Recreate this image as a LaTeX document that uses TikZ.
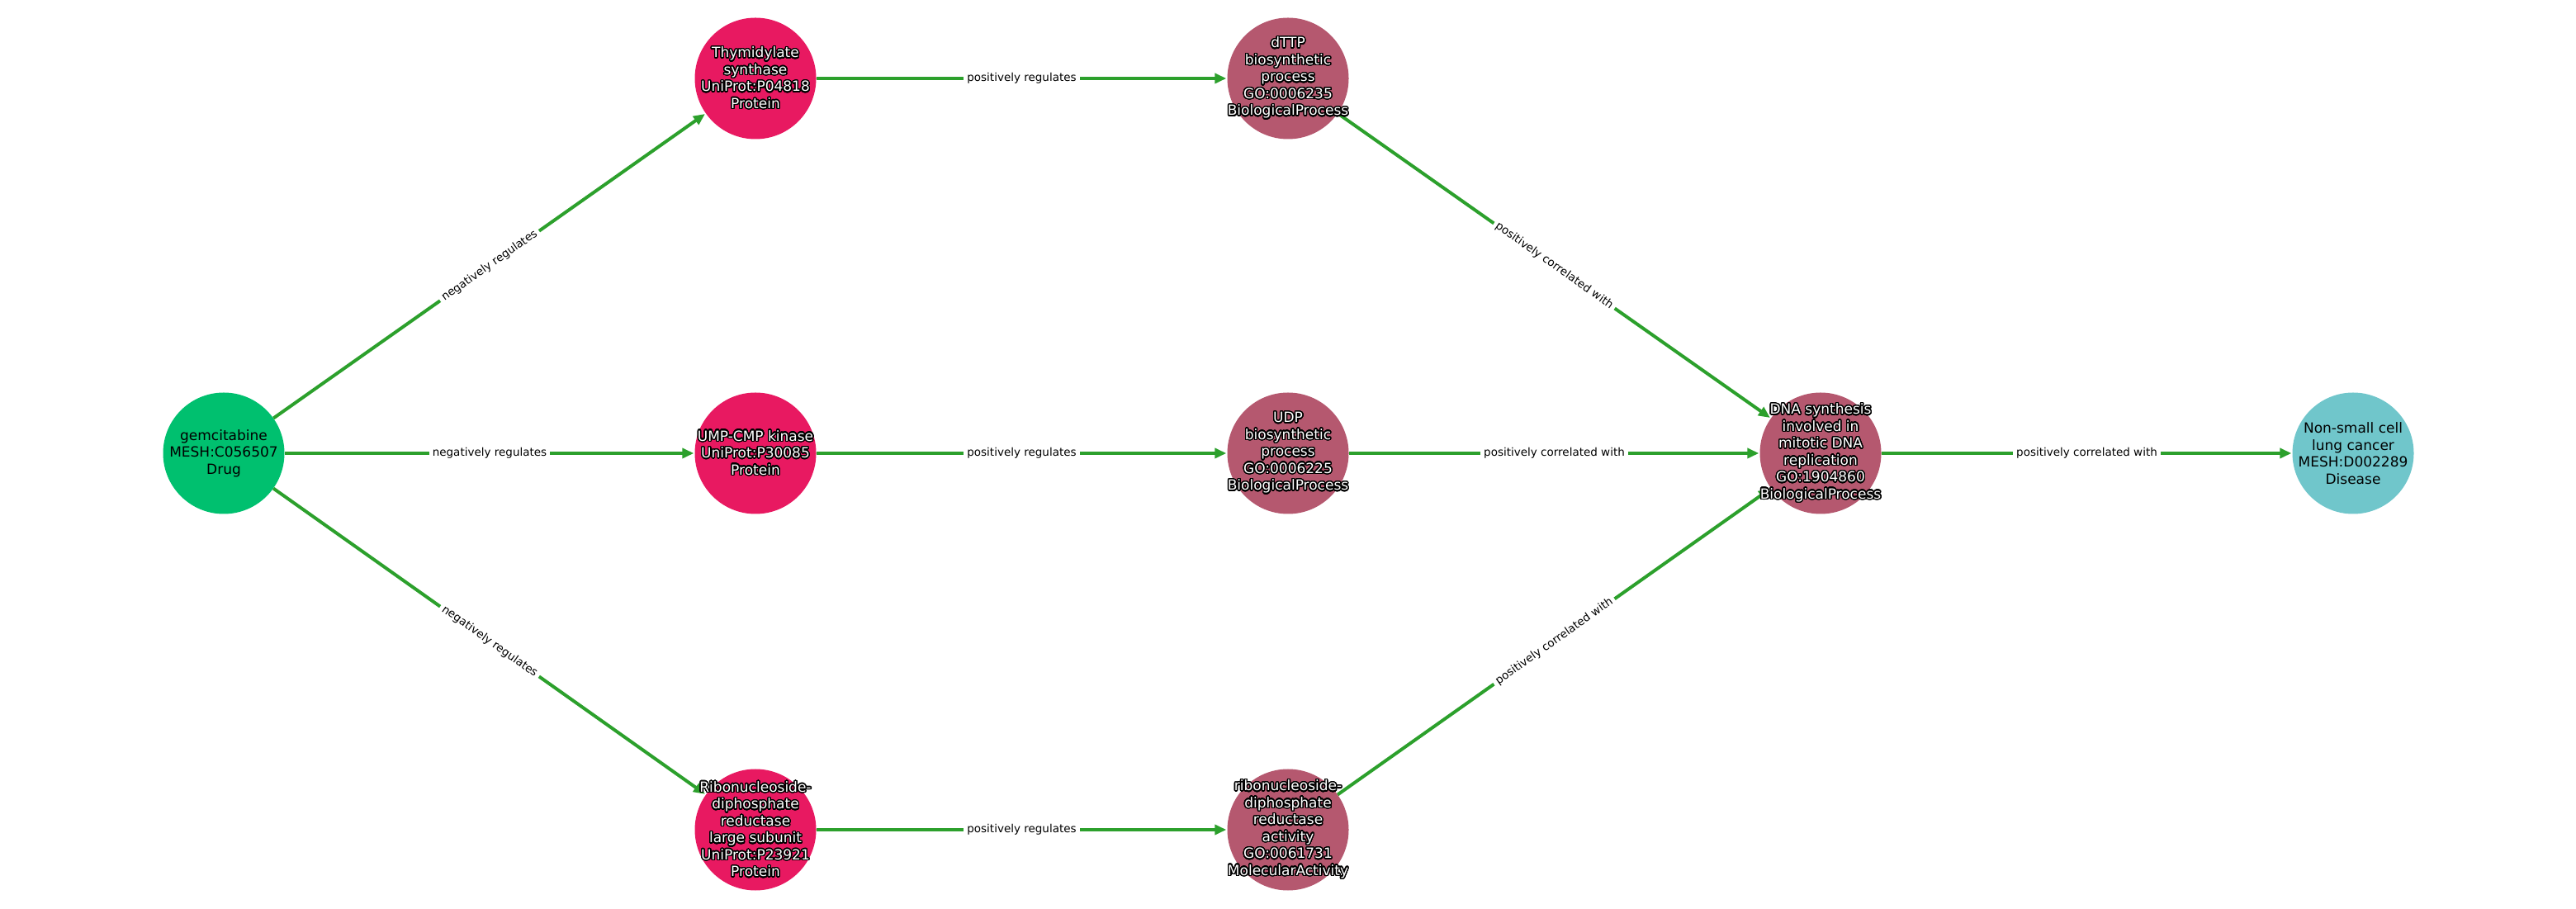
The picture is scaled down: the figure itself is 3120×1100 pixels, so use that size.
\documentclass[tikz,border=0pt]{standalone}
\usepackage{fontspec}
\setmainfont{DejaVu Sans}
\usepackage{contour}
\contourlength{1.4pt}
\contournumber{32}
\usetikzlibrary{arrows.meta}
\definecolor{drugc}{RGB}{0,192,111}
\definecolor{protc}{RGB}{232,25,97}
\definecolor{procc}{RGB}{181,88,111}
\definecolor{disc}{RGB}{112,198,203}
\definecolor{edgec}{RGB}{44,160,44}
\newcommand{\ct}[1]{\contour{black}{#1}}
\tikzset{
  circ/.style={circle, minimum size=147pt, inner sep=0pt, draw=none},
  txt/.style={align=center, inner sep=0pt, font=\fontsize{17}{20.5}\selectfont},
  wtxt/.style={txt, text=white},
  edge/.style={draw=edgec, line width=4pt, -{Triangle[length=14pt,width=12pt]}, shorten >=1pt},
  elabel/.style={fill=white, inner sep=4pt, text=black, font=\fontsize{13.5}{16}\selectfont, sloped, midway}
}
\begin{document}
\begin{tikzpicture}[x=1pt,y=1pt]
\useasboundingbox (0,0) rectangle (3120,1100);
% circles (y = 1100 - image y)
\node[circ, fill=drugc] (gem) at (271,551) {};
\node[circ, fill=protc] (ts) at (915,1005) {};
\node[circ, fill=protc] (ump) at (915,551) {};
\node[circ, fill=protc] (rnr) at (915,95) {};
\node[circ, fill=procc] (dttp) at (1560,1005) {};
\node[circ, fill=procc] (udp) at (1560,551) {};
\node[circ, fill=procc] (rnra) at (1560,95) {};
\node[circ, fill=procc] (dna) at (2205,551) {};
\node[circ, fill=disc] (nsclc) at (2850,551) {};

% edges
\draw[edge] (gem) -- node[elabel] {negatively regulates} (ts);
\draw[edge] (gem) -- node[elabel] {negatively regulates} (ump);
\draw[edge] (gem) -- node[elabel] {negatively regulates} (rnr);
\draw[edge] (ts) -- node[elabel] {positively regulates} (dttp);
\draw[edge] (ump) -- node[elabel] {positively regulates} (udp);
\draw[edge] (rnr) -- node[elabel] {positively regulates} (rnra);
\draw[edge] (dttp) -- node[elabel] {positively correlated with} (dna);
\draw[edge] (udp) -- node[elabel] {positively correlated with} (dna);
\draw[edge] (rnra) -- node[elabel] {positively correlated with} (dna);
\draw[edge] (dna) -- node[elabel] {positively correlated with} (nsclc);

% node texts
\node[txt] (gem-t) at (gem) {gemcitabine\\MESH:C056507\\Drug};
\node[wtxt] (ts-t) at (ts) {\ct{Thymidylate}\\\ct{synthase}\\\ct{UniProt:P04818}\\\ct{Protein}};
\node[wtxt] (ump-t) at (ump) {\ct{UMP-CMP kinase}\\\ct{UniProt:P30085}\\\ct{Protein}};
\node[wtxt] (rnr-t) at (rnr) {\ct{Ribonucleoside-}\\\ct{diphosphate}\\\ct{reductase}\\\ct{large subunit}\\\ct{UniProt:P23921}\\\ct{Protein}};
\node[wtxt] (dttp-t) at (dttp) {\ct{dTTP}\\\ct{biosynthetic}\\\ct{process}\\\ct{GO:0006235}\\\ct{BiologicalProcess}};
\node[wtxt] (udp-t) at (udp) {\ct{UDP}\\\ct{biosynthetic}\\\ct{process}\\\ct{GO:0006225}\\\ct{BiologicalProcess}};
\node[wtxt] (rnra-t) at (rnra) {\ct{ribonucleoside-}\\\ct{diphosphate}\\\ct{reductase}\\\ct{activity}\\\ct{GO:0061731}\\\ct{MolecularActivity}};
\node[wtxt] (dna-t) at (dna) {\ct{DNA synthesis}\\\ct{involved in}\\\ct{mitotic DNA}\\\ct{replication}\\\ct{GO:1904860}\\\ct{BiologicalProcess}};
\node[txt] (nsclc-t) at (nsclc) {Non-small cell\\lung cancer\\MESH:D002289\\Disease};
\end{tikzpicture}
\end{document}
